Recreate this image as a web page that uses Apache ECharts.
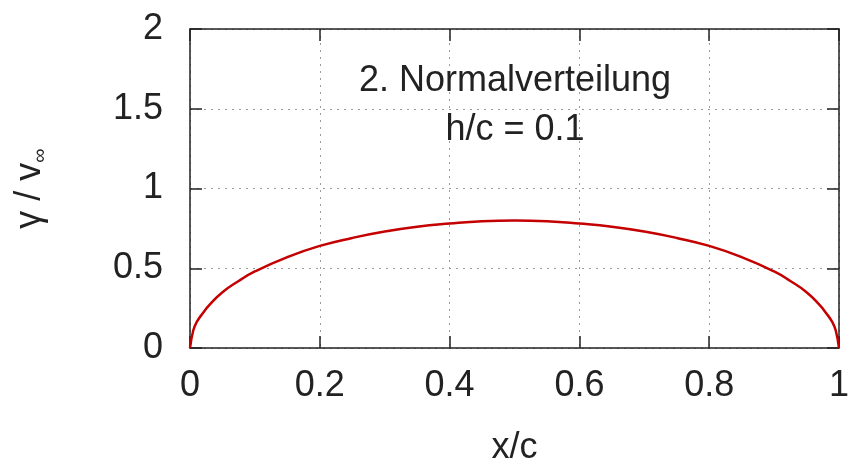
<!DOCTYPE html>
<html>
<head>
<meta charset="utf-8">
<script src="https://cdn.jsdelivr.net/npm/echarts@6/dist/echarts.min.js"></script>
<style>
  html, body { margin: 0; padding: 0; background: #fff; }
  #chart { width: 850px; height: 468px; }
</style>
</head>
<body>
<div id="chart"></div>
<script>
// values (x/c, gamma / v_inf)
var xPos = [0, 0.005, 0.01, 0.02, 0.03, 0.05, 0.075, 0.1, 0.15, 0.2, 0.25, 0.3, 0.35, 0.4, 0.45, 0.5,
  0.55, 0.6, 0.65, 0.7, 0.75, 0.8, 0.85, 0.9, 0.925, 0.95, 0.97, 0.98, 0.99, 0.995, 1];
var gamma = [0, 0.11, 0.16, 0.22, 0.27, 0.35, 0.42, 0.48, 0.57, 0.64, 0.69, 0.73, 0.76, 0.78, 0.795, 0.8,
  0.795, 0.78, 0.76, 0.73, 0.69, 0.64, 0.57, 0.48, 0.42, 0.35, 0.27, 0.22, 0.16, 0.11, 0];
var xTicks = [0, 0.2, 0.4, 0.6, 0.8, 1];
var yTicks = [0, 0.5, 1, 1.5, 2];
var titleLines = ["2. Normalverteilung", "h/c = 0.1"];

var font = "Liberation Sans";
var chart = echarts.init(document.getElementById("chart"));

var points = [];
for (var i = 0; i < xPos.length; i++) {
  points.push([xPos[i], gamma[i]]);
}

function frameAxis(pos, ticks, withLabels) {
  return {
    type: "value",
    position: pos,
    min: ticks[0],
    max: ticks[ticks.length - 1],
    interval: ticks[1] - ticks[0],
    axisLine: { show: true, onZero: false, lineStyle: { color: "#222", width: 1.5 } },
    axisTick: { show: true, inside: true, length: 12, lineStyle: { color: "#222", width: 1.5 } },
    splitLine: { show: false },
    axisLabel: { show: false },
  };
}

var xTop = frameAxis("top", xTicks);
var yRight = frameAxis("right", yTicks);

var option = {
  animation: false,
  backgroundColor: "#fff",
  title: {
    text: titleLines.join("\n"),
    left: 510,
    top: 52,
    textAlign: "center",
    textStyle: {
      fontFamily: font,
      fontSize: 36,
      fontWeight: "normal",
      color: "#222",
      lineHeight: 49,
    },
  },
  grid: {
    left: 190,
    right: 11,
    top: 29,
    bottom: 120,
    outerBoundsMode: "none",
  },
  xAxis: [
    {
      type: "value",
      position: "bottom",
      min: xTicks[0],
      max: xTicks[xTicks.length - 1],
      interval: xTicks[1] - xTicks[0],
      name: "x/c",
      nameLocation: "middle",
      nameGap: 82,
      nameTextStyle: { fontFamily: font, fontSize: 36, color: "#222" },
      axisLine: { show: true, onZero: false, lineStyle: { color: "#222", width: 1.5 } },
      axisTick: { show: true, inside: true, length: 12, lineStyle: { color: "#222", width: 1.5 } },
      axisLabel: { margin: 20, fontFamily: font, fontSize: 36, color: "#222" },
      splitLine: { show: true, lineStyle: { color: "#9a9a9a", width: 1, type: [2, 5] } },
    },
    xTop,
  ],
  yAxis: [
    {
      type: "value",
      position: "left",
      min: yTicks[0],
      max: yTicks[yTicks.length - 1],
      interval: yTicks[1] - yTicks[0],
      name: "{m|γ / v}{s|∞}",
      nameLocation: "middle",
      nameRotate: 90,
      nameGap: 140,
      nameTextStyle: {
        rich: {
          m: { fontFamily: font, fontSize: 36, color: "#222", lineHeight: 40 },
          s: { fontFamily: font, fontSize: 20, color: "#222", lineHeight: 20, verticalAlign: "bottom" },
        },
      },
      axisLine: { show: true, onZero: false, lineStyle: { color: "#222", width: 1.5 } },
      axisTick: { show: true, inside: true, length: 12, lineStyle: { color: "#222", width: 1.5 } },
      axisLabel: { margin: 27, fontFamily: font, fontSize: 36, color: "#222" },
      splitLine: { show: true, lineStyle: { color: "#9a9a9a", width: 1, type: [2, 5] } },
    },
    yRight,
  ],
  series: [
    {
      type: "line",
      data: points,
      xAxisIndex: 0,
      yAxisIndex: 0,
      smooth: true,
      showSymbol: false,
      lineStyle: { color: "#c40000", width: 2.5 },
      z: 5,
    },
  ],
};

chart.setOption(option);
</script>
</body>
</html>
